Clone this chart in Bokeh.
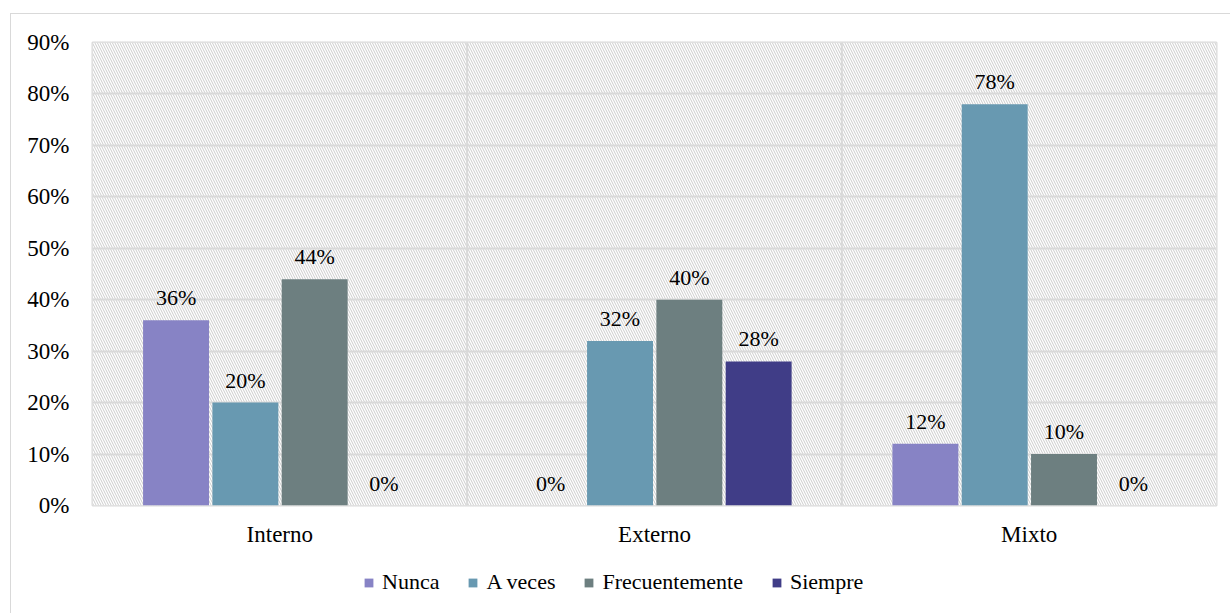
from bokeh.plotting import figure
from bokeh.layouts import column
from bokeh.models import (FactorRange, ColumnDataSource, Legend, LegendItem, Span,
                          NumeralTickFormatter, LabelSet)
from bokeh.transform import dodge
from bokeh.embed import file_html
from bokeh.resources import INLINE

# Data
categories = ["Interno", "Externo", "Mixto"]
series = ["Nunca", "A veces", "Frecuentemente", "Siempre"]
nunca = [0.36, 0.00, 0.12]
a_veces = [0.20, 0.32, 0.78]
frecuentemente = [0.44, 0.40, 0.10]
siempre = [0.00, 0.28, 0.00]
y_ticks = [0.0, 0.1, 0.2, 0.3, 0.4, 0.5, 0.6, 0.7, 0.8, 0.9]

values = [nunca, a_veces, frecuentemente, siempre]
colors = ["#8783C5", "#6899B1", "#6D7F80", "#403D87"]
offsets = [-0.277, -0.092, 0.093, 0.278]
bar_w = 0.176

FONT = "Times New Roman"
FS = "23px"
GRID = "#d9d9d9"
BORDER = "1px solid #d9d9d9"

# main chart
p = figure(x_range=FactorRange(factors=categories, range_padding=0),
           y_range=(0, 0.9), width=1220, height=546,
           output_backend="svg", toolbar_location=None,
           min_border_left=81, min_border_right=15, min_border_top=28,
           min_border_bottom=55)
p.margin = (13, 0, 0, 10)
p.styles = {"border-left": BORDER, "border-top": BORDER}

p.outline_line_color = GRID
p.outline_line_width = 2

# hatched plot-area background
p.quad(left=[0], right=[3], bottom=[0], top=[0.9], fill_color="white",
       line_color=None, hatch_pattern="\\", hatch_color="#cccccc",
       hatch_scale=5, hatch_weight=1, level="image")

p.xgrid.grid_line_color = None
p.ygrid.grid_line_color = GRID
p.ygrid.grid_line_width = 2
p.yaxis.ticker = y_ticks

for b in [1, 2]:
    p.add_layout(Span(location=b, dimension="height", line_color=GRID,
                      line_width=2, level="underlay"))

for name, vals, col, off in zip(series, values, colors, offsets):
    src = ColumnDataSource(dict(cat=categories, val=vals,
                                lab=[f"{round(v * 100)}%" for v in vals]))
    p.vbar(x=dodge("cat", off, range=p.x_range), top="val", width=bar_w,
           source=src, fill_color=col, line_color=None)
    p.add_layout(LabelSet(x=dodge("cat", off, range=p.x_range), y="val", text="lab",
                          source=src, text_align="center", text_baseline="bottom",
                          y_offset=10, text_font=FONT, text_font_size="22px",
                          text_color="#000000"))

for ax in (p.xaxis, p.yaxis):
    ax.axis_line_color = None
    ax.major_tick_line_color = None
    ax.minor_tick_line_color = None
    ax.major_label_text_font = FONT
    ax.major_label_text_font_size = FS
    ax.major_label_text_color = "#000000"

p.yaxis.formatter = NumeralTickFormatter(format="0%")
p.yaxis.major_label_standoff = 17
p.xaxis.major_label_standoff = 10

# legend strip under the chart (its frame lines up with the chart's frame)
lf = figure(x_range=(0, 1), y_range=(0, 1), width=1220, height=54,
            output_backend="svg", toolbar_location=None,
            x_axis_location=None, y_axis_location=None,
            min_border=0, min_border_left=0, min_border_right=0,
            min_border_top=0, min_border_bottom=0)
lf.margin = (0, 0, 0, 10)
lf.styles = {"border-left": BORDER}
lf.grid.visible = False
lf.outline_line_color = None

items = []
for name, col in zip(series, colors):
    # swatch source sits outside the visible range; only the legend shows it
    r = lf.vbar(x=[-10], top=[-10], width=0.1, fill_color=col, line_color=None)
    items.append(LegendItem(label=name, renderers=[r]))

legend = Legend(items=items, orientation="horizontal", location=(271, 18),
                label_text_font=FONT, label_text_font_size="22px",
                label_text_color="#000000",
                glyph_width=11, glyph_height=11, spacing=28, label_standoff=8,
                border_line_color=None, background_fill_alpha=0,
                padding=0, margin=0)
lf.add_layout(legend, "center")

layout = column(p, lf, spacing=0)
open("out.html", "w").write(file_html(layout, INLINE))
